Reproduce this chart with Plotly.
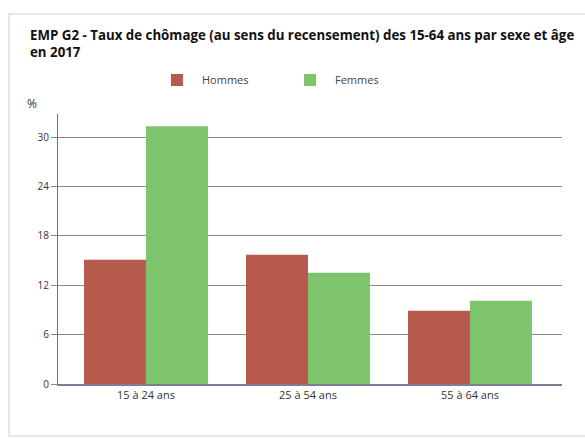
import plotly.graph_objects as go

categories = ["15 à 24 ans", "25 à 54 ans", "55 à 64 ans"]
hommes = [15.1, 15.7, 8.9]
femmes = [31.3, 13.5, 10.1]
y_ticks = [0, 6, 12, 18, 24, 30]

W, H = 585, 439
L, R, T, B = 58, 23, 114, 55
pw, ph = W - L - R, H - T - B

def px_x(px):
    return (px - L) / pw

def px_y(py):
    return (H - B - py) / ph

fig = go.Figure()
fig.add_trace(go.Bar(name="Hommes", x=categories, y=hommes,
                     marker=dict(color="#b65a4e", line=dict(width=0))))
fig.add_trace(go.Bar(name="Femmes", x=categories, y=femmes,
                     marker=dict(color="#7dc46c", line=dict(width=0))))

fig.update_layout(
    width=W, height=H,
    margin=dict(l=L, r=R, t=T, b=B),
    paper_bgcolor="white", plot_bgcolor="white",
    barmode="group", bargap=0.235, bargroupgap=0,
    font=dict(family="Open Sans", color="#333333", size=11),
    title=dict(
        text="<b>EMP G2 - Taux de chômage (au sens du recensement) des 15-64 ans par sexe et âge<br>en 2017</b>",
        x=30 / W, xanchor="left", xref="container",
        y=1 - 40 / H, yanchor="top", yref="container",
        font=dict(family="Open Sans", size=13.3, color="#111111"),
    ),
    legend=dict(
        orientation="h", x=px_x(152), xanchor="left", y=px_y(80), yanchor="middle",
        font=dict(size=11, color="#444444"), itemwidth=40, entrywidth=78,
        bgcolor="rgba(0,0,0,0)", traceorder="normal",
    ),
    xaxis=dict(
        type="category", range=[-0.543, 2.568],
        showline=True, linecolor="#7d7d96", linewidth=1.5,
        ticks="", showgrid=False, tickfont=dict(size=11, color="#333333"),
        fixedrange=True,
    ),
    yaxis=dict(
        range=[0, 32.8], tickvals=y_ticks, ticktext=[str(v) for v in y_ticks],
        showgrid=True, gridcolor="#8a8a8a", gridwidth=1,
        showline=True, linecolor="#6e6e86", linewidth=1,
        ticks="outside", ticklen=6, tickcolor="#8a8a8a",
        tickfont=dict(size=10, color="#333333"), zeroline=False,
        fixedrange=True,
    ),
    showlegend=True,
)

fig.add_annotation(text="%", xref="paper", yref="paper", x=px_x(25), y=px_y(103),
                   xanchor="left", yanchor="middle", showarrow=False,
                   font=dict(size=12, color="#333333"))

fig.add_shape(type="rect", xref="paper", yref="paper",
              x0=px_x(9), x1=px_x(592), y0=px_y(436), y1=px_y(14),
              line=dict(color="#e6e6e6", width=2), fillcolor="rgba(0,0,0,0)", layer="below")

fig.write_html("out.html", config={"displayModeBar": False},
               post_script="document.body.style.margin='0';document.body.style.overflow='hidden';")
